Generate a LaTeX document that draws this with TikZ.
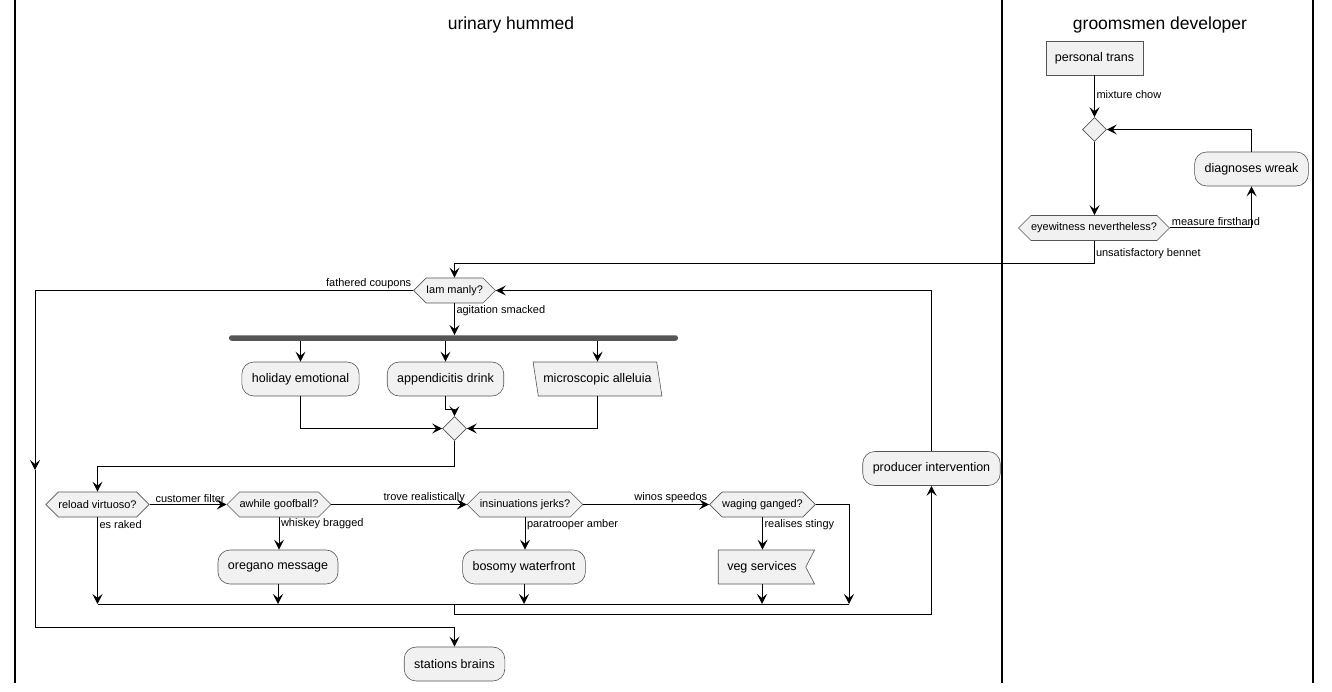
\documentclass[tikz,border=0pt]{standalone}
\usepackage{fontspec}
\setmainfont{Liberation Sans}
\usetikzlibrary{shapes.geometric, shapes.symbols, arrows.meta, positioning, calc}
\definecolor{actfill}{HTML}{F1F1F1}
\definecolor{actline}{HTML}{555555}
\definecolor{forkcol}{HTML}{555555}

\begin{document}
\begin{tikzpicture}[
        x=1pt, y=-1pt,
        action/.style={rectangle, rounded corners=12pt, draw=actline, line width=0.6pt, fill=actfill, minimum height=34pt, inner xsep=10pt, font=\fontsize{12.5}{15}\selectfont},
        plainbox/.style={action, rounded corners=0pt, inner xsep=9pt},
        parabox/.style={action, trapezium, rounded corners=0pt, trapezium left angle=106, trapezium right angle=74, trapezium stretches=true, inner xsep=5pt},
        flagbox/.style={action, signal, rounded corners=0pt, signal to=nowhere, signal from=east, signal pointer angle=125, inner xsep=9pt},
        query/.style={signal, signal to=west and east, signal pointer angle=90, draw=actline, line width=0.6pt, fill=actfill, minimum height=25pt, inner xsep=0pt, font=\fontsize{11}{13}\selectfont},
        junction/.style={diamond, draw=actline, line width=0.6pt, fill=actfill, minimum size=24pt, inner sep=0pt},
        forkbar/.style={rectangle, rounded corners=2.5pt, fill=forkcol, minimum width=449pt, minimum height=5.5pt, inner sep=0pt},
        lanetitle/.style={font=\fontsize{17.5}{20}\selectfont},
        lbl/.style={font=\fontsize{11}{13}\selectfont, inner sep=1.5pt},
        flow/.style={draw, line width=1pt, -{Stealth[length=10pt, width=10pt, inset=4pt]}},
        wire/.style={draw, line width=1pt},
        lane/.style={line width=2pt}
    ]
    \useasboundingbox (0,0) rectangle (1332,692);

    % Lanes
    \draw[lane] (15,0) -- (15,683);
    \draw[lane] (1002,0) -- (1002,683);
    \draw[lane] (1313,0) -- (1313,683);
    \node[lanetitle] (laneA) at (511,25) {urinary hummed};
    \node[lanetitle] (laneB) at (1160,25) {groomsmen developer};

    % Right lane
    \node[plainbox] (trans) at (1094.5,58) {personal trans};
    \node[junction] (loopd) at (1094.5,129.5) {};
    \node[query] (eyew) at (1094,228) {eyewitness nevertheless?};
    \node[action] (diag) at (1251.5,169) {diagnoses wreak};

    % Left lane
    \node[query] (manly) at (454.5,290.5) {Iam manly?};
    \node[forkbar] (fork) at (453.5,338) {};
    \node[action] (holi) at (300.5,379) {holiday emotional};
    \node[action] (appen) at (445.5,379) {appendicitis drink};
    \node[parabox] (micro) at (597.5,379) {microscopic alleluia};
    \node[junction] (endfork) at (454.5,428.5) {};
    \node[query] (reload) at (97.5,504.5) {reload virtuoso?};
    \node[query] (awhile) at (279,504.5) {awhile goofball?};
    \node[query] (insin) at (525,504.5) {insinuations jerks?};
    \node[query] (waging) at (762.5,504.5) {waging ganged?};
    \node[action] (oreg) at (278,567) {oregano message};
    \node[action] (bosom) at (524,567) {bosomy waterfront};
    \node[flagbox] (veg) at (762,567) {veg services};
    \node[action] (prod) at (931.5,468.5) {producer intervention};
    \node[action] (stat) at (454.5,664) {stations brains};

    \coordinate (wjoin) at (849,604);
    \coordinate (exithi) at (35,470);
    \coordinate (exitlo) at (35,627);

    % Edges, right lane
    \draw[flow] (trans.south) -- node[lbl, right, pos=0.45] {mixture chow} (loopd.north);
    \draw[flow] (loopd.south) -- (loopd.south |- eyew.north);
    \draw[flow] (eyew.east) -| node[lbl, anchor=south west, pos=0] {measure firsthand} (diag.south);
    \draw[flow] (diag.north) |- (loopd.east);
    \draw[flow] (eyew.south) -- node[lbl, right, pos=0.56] {unsatisfactory bennet} ++(0,23) -| (manly.north);

    % Loop
    \draw[flow] (manly.west) -| node[lbl, anchor=south east, pos=0] {fathered coupons} (exithi);
    \draw[flow] (exithi) -- (exitlo) -| (stat.north);
    \draw[flow] (prod.north) |- (manly.east);
    \draw[flow] (manly.south) -- node[lbl, right, pos=0.22] {agitation smacked} (manly.south |- fork.north);

    % Fork
    \foreach \b in {holi, appen, micro} {
        \draw[flow] (fork.south -| \b.north) -- (\b.north);
    }
    \draw[flow] (holi.south) |- (endfork.west);
    \draw[flow] (micro.south) |- (endfork.east);
    \draw[flow] (appen.south) -- ++(0,13) -| (endfork.north);
    \draw[flow] (endfork.south) -- ++(0,26) -| (reload.north);

    % Tests
    \draw[flow] (reload.east) -- node[lbl, anchor=south east, pos=1] {customer filter} (awhile.west);
    \draw[flow] (awhile.east) -- node[lbl, anchor=south east, pos=1] {trove realistically} (insin.west);
    \draw[flow] (insin.east) -- node[lbl, anchor=south east, pos=1] {winos speedos} (waging.west);
    \draw[flow] (waging.east) -| (wjoin);
    \draw[flow] (reload.south) -- node[lbl, right, pos=0.08] {es raked} (reload.south |- wjoin);
    \draw[flow] (awhile.south) -- node[lbl, right, pos=0.21] {whiskey bragged} (awhile.south |- oreg.north);
    \draw[flow] (insin.south) -- node[lbl, right, pos=0.24] {paratrooper amber} (insin.south |- bosom.north);
    \draw[flow] (waging.south) -- node[lbl, right, pos=0.24] {realises stingy} (waging.south |- veg.north);
    \foreach \b in {oreg, bosom, veg} {
        \draw[flow] (\b.south) -- (\b.south |- wjoin);
    }
    \draw[wire] (reload.south |- wjoin) -- (wjoin);
    \draw[flow] (manly.south |- wjoin) -- ++(0,10) -| (prod.south);

\end{tikzpicture}
\end{document}
